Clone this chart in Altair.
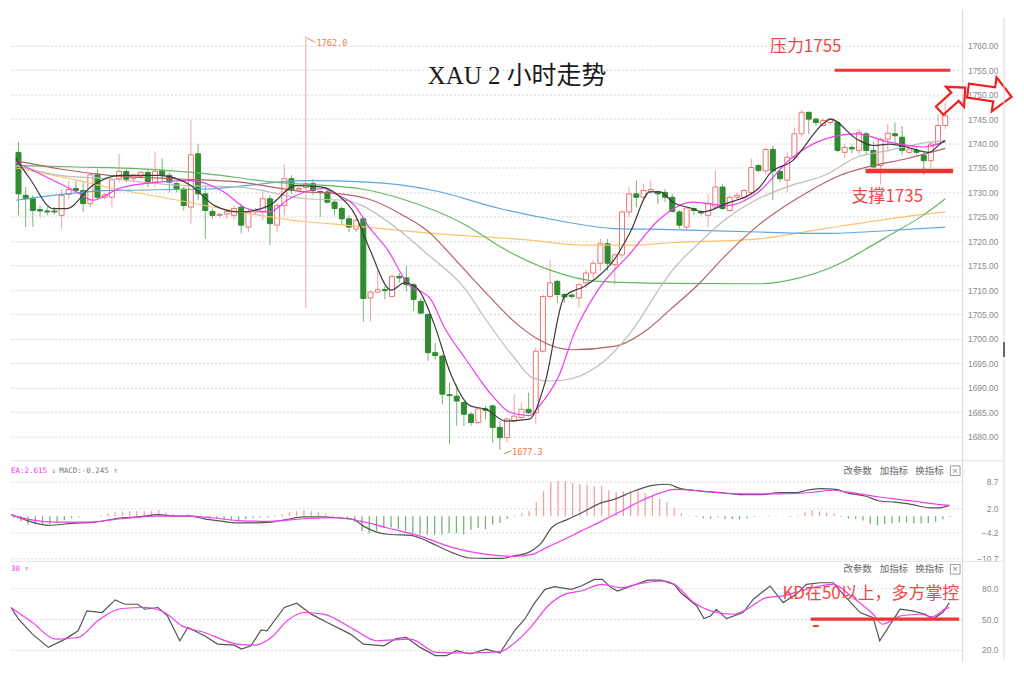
import altair as alt
import pandas as pd

# ---------------- candle data (2-hour bars) ----------------
opens = [1738.2,1729.4,1728.7,1726.5,1726.2,1726.1,1725.3,1729.6,1730.8,1730.4,
1727.7,1733.7,1729.0,1729.0,1732.8,1734.3,1732.8,1733.3,1734.1,1732.1,
1734.5,1733.5,1731.8,1730.7,1727.0,1737.9,1729.7,1726.1,1725.3,1725.6,
1725.3,1727.0,1722.9,1726.0,1726.0,1728.7,1723.3,1727.3,1732.8,1730.5,
1731.0,1731.8,1730.1,1730.1,1728.0,1726.7,1724.6,1722.5,1724.6,1708.4,
1709.6,1710.0,1708.7,1712.8,1712.5,1711.1,1707.7,1705.0,1697.2,1696.5,
1688.6,1688.3,1687.0,1684.6,1682.9,1685.7,1686.3,1681.9,1679.8,1683.2,
1683.9,1685.6,1684.9,1697.5,1708.7,1711.8,1709.1,1709.0,1708.4,1711.5,
1713.5,1715.5,1719.5,1715.2,1717.2,1726.0,1729.7,1729.0,1730.2,1730.1,
1730.0,1729.0,1726.0,1722.9,1726.7,1726.1,1725.3,1727.0,1731.1,1726.3,
1729.0,1729.0,1730.0,1735.5,1734.4,1738.8,1734.3,1732.5,1737.2,1742.0,
1746.4,1745.0,1743.7,1744.3,1744.3,1738.2,1739.2,1738.6,1742.0,1738.6,
1735.5,1740.9,1742.0,1741.3,1738.2,1738.6,1737.6,1736.5,1739.9,1743.7]
highs = [1740.3,1731.1,1729.4,1727.3,1727.0,1727.0,1730.7,1732.4,1732.4,1732.1,
1733.8,1734.8,1729.8,1732.8,1737.9,1734.8,1733.8,1734.4,1734.5,1738.4,
1736.9,1734.1,1732.1,1731.1,1744.9,1739.9,1731.4,1726.7,1725.8,1726.5,
1727.4,1727.7,1726.7,1726.8,1730.2,1729.4,1727.7,1735.7,1733.5,1731.1,
1762.0,1732.8,1730.4,1730.4,1728.4,1727.2,1725.3,1725.0,1725.0,1709.8,
1714.0,1710.8,1713.2,1713.5,1714.9,1711.5,1708.4,1705.3,1699.2,1696.8,
1691.1,1690.7,1687.3,1685.0,1685.9,1686.3,1686.6,1683.2,1683.9,1688.7,
1687.0,1689.0,1698.2,1709.1,1716.2,1712.1,1709.4,1709.3,1711.5,1714.2,
1716.2,1720.5,1720.5,1717.5,1726.3,1731.1,1732.4,1731.8,1732.4,1730.4,
1730.7,1729.7,1726.3,1727.0,1727.0,1726.5,1729.6,1734.5,1731.8,1729.4,
1730.0,1730.7,1736.9,1735.8,1739.2,1739.6,1734.6,1738.2,1743.3,1746.8,
1746.5,1745.3,1745.2,1745.3,1744.7,1739.8,1739.8,1743.0,1742.4,1740.3,
1741.3,1744.0,1744.3,1743.6,1739.2,1739.2,1738.2,1740.3,1746.1,1748.4]
lows = [1725.3,1722.9,1722.9,1725.0,1725.3,1725.5,1722.6,1728.7,1730.0,1726.0,
1727.0,1728.7,1728.6,1727.0,1732.1,1732.1,1732.1,1732.8,1731.1,1731.1,
1732.1,1730.0,1730.0,1726.3,1723.6,1728.4,1720.5,1724.6,1724.8,1724.6,
1724.3,1721.6,1721.9,1725.5,1724.3,1719.2,1721.9,1725.3,1729.7,1730.2,
1706.3,1729.4,1725.0,1727.7,1725.3,1723.3,1721.9,1721.9,1703.5,1703.6,
1709.4,1708.1,1708.7,1711.5,1709.8,1705.7,1705.0,1695.5,1695.8,1686.6,
1678.5,1682.2,1682.2,1682.2,1682.6,1683.6,1678.8,1677.3,1678.8,1682.9,
1683.6,1684.6,1682.6,1697.2,1708.1,1707.4,1707.4,1708.2,1706.4,1710.4,
1712.1,1714.0,1714.0,1711.1,1716.5,1725.0,1726.9,1728.7,1729.7,1727.6,
1728.0,1725.9,1722.6,1722.3,1725.3,1725.3,1722.9,1726.7,1726.4,1726.0,
1728.7,1728.4,1729.4,1734.1,1733.6,1728.4,1732.1,1730.0,1736.9,1741.4,
1741.9,1743.6,1743.5,1743.8,1738.2,1737.1,1738.0,1737.7,1737.7,1734.9,
1731.6,1738.4,1740.0,1737.7,1737.8,1737.7,1733.6,1735.0,1739.6,1743.0]
closes = [1729.7,1728.7,1726.3,1726.2,1726.0,1726.0,1729.4,1730.6,1730.4,1727.7,
1733.6,1729.0,1729.5,1732.6,1734.3,1732.7,1733.5,1734.1,1732.1,1734.3,
1733.5,1732.1,1730.7,1727.3,1737.7,1729.7,1726.3,1725.3,1725.4,1726.1,
1726.7,1723.3,1726.0,1726.3,1728.7,1723.6,1727.3,1732.8,1730.4,1730.8,
1731.8,1730.4,1730.0,1728.0,1726.7,1724.6,1722.9,1724.3,1708.3,1709.6,
1710.1,1709.9,1712.8,1712.5,1711.1,1708.1,1705.3,1697.2,1696.6,1688.7,
1688.4,1687.3,1684.6,1682.9,1685.7,1685.4,1681.9,1679.8,1683.6,1684.2,
1685.6,1684.9,1697.5,1708.7,1711.5,1709.1,1708.6,1708.7,1711.1,1713.5,
1715.5,1719.5,1715.5,1717.2,1726.0,1729.7,1729.0,1730.4,1730.6,1729.7,
1729.0,1726.1,1723.3,1726.8,1726.3,1725.8,1727.7,1731.1,1726.7,1729.0,
1729.4,1730.4,1735.1,1734.5,1738.8,1734.4,1732.8,1737.2,1742.0,1746.4,
1745.0,1744.3,1744.7,1745.0,1738.6,1739.2,1738.9,1742.3,1738.6,1735.2,
1740.8,1742.1,1741.6,1738.6,1738.9,1738.2,1736.5,1739.9,1743.7,1745.7]

# ---------------- moving averages ----------------
ma5_i = [-0.35,1.6,4.8,6.7,10.3,14,19.5,24,27.3,30.8,34.9,38.6,42.3,44.5,47,48,49,51.9,53.7,55.5,57.8,60.1,62.9,65.1,67.8,71.1,73.3,76,78.8,80.7,82.9,85.2,87.9,89.3,91.1,93.8,95.2,98.5,103,104.8,107.5,112.2,113,116.7,119,121.2,123.6,126.7,128.6,129]
ma5_v = [1736.9,1732.8,1726.7,1726.7,1731.4,1733.5,1733.5,1731.4,1727.3,1726.0,1727.3,1731.4,1731.1,1729.4,1725.0,1721.5,1718.0,1710.0,1711.5,1710.4,1703.3,1693.1,1686.3,1685.6,1683.2,1683.6,1691.1,1708.7,1710.8,1712.8,1716.2,1722.0,1730.1,1730.1,1728.0,1726.7,1726.0,1727.7,1730.8,1734.2,1736.2,1744.3,1745.0,1740.9,1739.6,1739.9,1739.3,1738.2,1740.3,1740.6]
ma10_i = [-0.35,3.4,8.1,10.3,14,19.5,24,28.6,31.8,34.9,37.7,42.3,44.5,46.8,48.6,51.4,54.1,57.4,59.2,62.3,66,68.4,71.1,72.5,75.2,77.4,80.7,85.2,89.3,93.8,98.5,103,107.5,112.2,116.7,121.2,125.9,129]
ma10_v = [1736.2,1733.5,1730.1,1728.4,1730.8,1732.1,1732.4,1730.1,1726.7,1726.0,1728.7,1730.8,1729.4,1727.3,1723.3,1718.2,1711.5,1708.1,1702.6,1695.8,1688.3,1685.0,1684.3,1686.3,1692.4,1701.3,1710.1,1717.6,1724.6,1728.0,1727.3,1730.1,1736.9,1740.9,1742.0,1740.3,1739.3,1740.4]
ma20_i = [-0.35,5.8,12.6,21.8,30.8,40,45.5,47.8,53.3,56.8,62.3,64.7,69.2,71.5,73.8,76,80.7,85.2,89.7,91,95,98.5,103,107.5,112.2,116.7,121.2,125.9,129]
ma20_v = [1735.5,1733.5,1732.8,1731.5,1731.1,1728.7,1728.4,1727.3,1721.9,1717.5,1710.0,1704.7,1695.8,1692.1,1691.4,1691.6,1694.5,1701.3,1711.4,1714.0,1720.0,1724.6,1728.7,1731.4,1733.5,1737.2,1738.6,1740.1,1740.6]
ma30_i = [-0.35,5.8,12.6,21.8,30.8,40,44.1,48.6,53.3,57.8,59.2,64.7,69.2,72.5,77,82.9,87.5,90.7,94.8,97.9,103,109.9,114.4,119,123.6,129]
ma30_v = [1736.5,1734.8,1733.5,1732.8,1732.1,1730.1,1729.8,1728.7,1725.5,1721.0,1718.8,1710.0,1703.3,1699.8,1697.8,1698.5,1701.9,1706.0,1711.4,1716.3,1723.3,1730.1,1733.5,1735.5,1736.9,1739.0]
ma60_i = [-0.35,8.1,17.1,26.3,35.5,45.5,47.8,53.3,62.3,67.5,73.8,80.7,90.7,103,107.5,114.4,117.7,121.2,125.9,129]
ma60_v = [1735.5,1735.2,1734.8,1733.8,1732.1,1731.1,1730.7,1728.7,1723.3,1718.5,1714.2,1711.8,1711.4,1711.3,1712.1,1715.5,1718.2,1721.2,1725.3,1728.7]
ma120_i = [-0.35,13,26.3,40,48.6,57.8,67,76,82.9,90.7,103,112.2,121.2,129]
ma120_v = [1728.4,1730.4,1730.7,1732.4,1732.1,1730.4,1726.7,1724.0,1722.6,1722.4,1721.9,1721.6,1722.2,1722.9]
ma250_i = [-0.35,8.1,12.6,21.8,30.8,40,45.5,57.8,71.5,78.4,85.2,90.7,103,112.2,121.2,129]
ma250_v = [1735.0,1732.5,1731.0,1728.5,1726.0,1724.0,1723.3,1721.6,1720.2,1719.2,1719.2,1719.7,1720.5,1722.6,1724.6,1726.0]

# ---------------- MACD ----------------
macd_hist = [-0.5,-1.3,-2.0,-2.0,-2.0,-2.0,-1.5,-1.0,-0.5,-0.3,
-0.1,0.1,0.2,0.8,1.0,1.2,1.3,1.3,1.2,1.3,
1.5,1.0,0.5,0.2,0.5,0.0,-0.3,-0.5,-0.5,-1.0,
-1.0,-1.0,-0.8,-0.5,-0.3,-0.3,0.2,0.5,1.0,1.2,
1.5,1.2,1.0,0.6,0.3,-0.1,-0.5,-1.5,-3.7,-4.3,
-3.7,-2.9,-2.9,-3.3,-3.7,-4.2,-4.6,-4.6,-4.6,-4.6,
-4.2,-4.3,-4.6,-3.5,-2.9,-3.3,-2.1,-1.7,-0.7,0.2,
0.7,1.25,3.5,6.25,8.5,8.75,8.75,8.3,8.1,7.9,
7.5,7.5,6.5,6.1,6.25,6.25,6.25,5.8,5.2,4.3,
3.5,2.1,0.8,0.1,-0.2,-0.5,-0.6,-0.3,-0.7,-0.8,
-0.8,-0.6,-0.2,-0.1,0.2,0.05,-0.1,-0.2,0.2,1.0,
1.5,1.2,0.9,0.7,-0.2,-0.6,-0.8,-1.1,-2.0,-2.3,
-2.0,-1.8,-1.6,-1.6,-1.8,-1.8,-1.7,-1.4,-0.8,-0.2]
dif_i = [-0.35,2.1,4.8,8.1,11.2,14.9,17.1,19.9,22.2,24.5,26.3,28.6,30.8,33.2,35.5,37.7,40,42.3,44.5,46.8,48.2,50,51.9,54.7,56.4,58.2,60.5,62.9,65.1,67.4,68.8,70.8,72.7,74.1,76.3,78.2,81,82.7,85.5,88.2,90,91.9,94.7,97.4,100.1,102.9,105.6,107.8,109.2,111.1,113.3,114.7,117.4,119.3,121.5,123.8,126.2,127.5,128.9]
dif_v = [0.4,-1.25,-2.3,-1.8,-1.5,-0.4,-0.2,0.4,0.0,0.0,-0.7,-1.25,-1.7,-1.7,-1.5,-0.8,-0.2,-0.2,-0.4,-0.8,-2.5,-4.0,-4.6,-4.8,-5.8,-7.3,-9.2,-10.5,-10.6,-10.6,-10.0,-9.2,-6.7,-2.9,-0.8,0.8,3.4,4.2,6.3,7.8,8.0,6.9,6.3,5.9,5.4,5.4,5.9,5.9,6.5,6.9,6.7,5.9,5.0,3.8,3.5,2.9,2.1,2.1,2.7]
dea_i = [-0.35,2.1,5.8,10.3,14.9,19.5,24,27.3,30.8,35.5,40,44.5,47.8,51.4,56,60.5,65.1,69,71.4,73.6,75.9,78.2,81,83.7,86.4,89.2,91,93.7,96.4,101,105.6,110.1,112.9,114.7,119.3,123.8,127.5,128.9]
dea_v = [0.4,-0.8,-1.5,-1.5,-0.65,0.0,0.0,-0.4,-1.1,-1.3,-0.65,-0.4,-1.25,-2.9,-5.0,-7.9,-9.6,-10.1,-9.6,-7.7,-5.8,-3.7,-1.25,1.25,3.8,5.9,6.7,6.5,6.0,5.6,5.6,6.0,6.5,6.1,4.8,3.8,2.9,2.7]

# ---------------- KD ----------------
k_i = [-0.35,0.7,2.6,4.8,7.1,8.9,10.1,12.2,14,15.3,17.1,18.1,19.9,21.2,22.9,24,26.3,28.1,30.4,31.4,32.7,34.1,34.9,37.3,39,41,43.2,46.4,48.2,51,52.7,54.1,56,58.1,59.6,61,62.9,65.1,67,69,70.4,71.8,73.2,74.5,76.8,78.2,80,81.1,82.3,83.2,85.1,87.3,89.2,91,91.9,94.1,95.1,96,96.8,98.2,100.5,101.9,104.2,106,107.8,109.2,111.1,112.9,114.7,116.6,118.4,119.3,122.1,123.8,125.6,126.6,128,128.9]
k_v = [61.4,50,35.3,22.3,30.4,38.5,58.1,56.5,68.9,64.6,64.6,59.7,61.4,53.2,28.8,41.8,33.7,25.5,24.5,20.6,23.8,39.5,38.5,61.4,65.6,54.9,46.7,35.3,25.5,23.8,31,32,22.3,14.2,14.2,19.1,15.8,20.6,16.8,38.5,49.9,66.2,79.2,81.8,79.2,82.5,89,89,80.9,77.6,82.5,88.3,88.3,84.1,75.9,62.9,50.5,53.1,59.7,50.5,56.4,69.5,82.5,66.2,74.3,84.1,85.7,85.7,71.1,56.4,51.5,28.8,59.7,58.1,54.8,49.9,56.4,66.2]
d_i = [-0.35,2.6,5.8,8.9,11.6,14.9,18.1,20.8,23.2,26.3,30.8,33.2,35.5,37.7,40,42.7,46.8,50,54.7,58.2,62.9,67,68.8,71.4,73.6,75.9,78.2,81,83.7,86.4,89.6,91,93.7,96,99.2,101,103.7,106,108.4,111.1,112.9,115.6,118.4,119.7,122.1,124.8,126.6,128.4,128.9]
d_v = [61.4,46.7,30.4,32,48.4,60.4,61.4,56.5,43.4,36.9,25.5,24.5,32,48.4,56.5,54.9,40.2,28.8,30.4,17.4,16.8,18.1,25.5,43.4,62.9,74.3,77.6,84.1,80.9,85.1,87.4,84.1,66.2,58.1,54.8,59.7,71.1,72.8,77.6,82.5,84.1,71.1,54.8,45,53.1,54.8,52.4,60.3,61.3]

price_ticks = [1680 + 5 * k for k in range(17)]
macd_ticks = [8.7, 2.0, -4.2, -10.7]
kd_ticks = [80, 50, 20]

# ---------------- frames ----------------
n = len(opens)
cdf = pd.DataFrame({"i": list(range(n)), "o": opens, "h": highs, "l": lows, "c": closes})
cdf["dir"] = ["up" if c > o else "down" for o, c in zip(opens, closes)]
cdf["blo"] = [min(o, c) for o, c in zip(opens, closes)]
cdf["bhi"] = [max(max(o, c), min(o, c) + 0.2) for o, c in zip(opens, closes)]

W = 954
XS = alt.Scale(domain=[-0.35, 130.66], nice=False, zero=False)
X = alt.X("i:Q", scale=XS, axis=None)


def make_axis(vals, fmt):
    return alt.Axis(orient="right", values=vals, format=fmt, grid=True, gridDash=[2, 2],
                    gridColor="#d6d6d6", gridWidth=1, domain=True, domainColor="#d4d4d4",
                    ticks=False, labelAlign="right", labelPadding=36, labelColor="#8a8a8a",
                    labelFontSize=8.5, labelFont="Liberation Sans", labelOverlap=False, title=None)


main_scale = alt.Scale(domain=[1675.1, 1767.55], nice=False, zero=False)
main_axis = make_axis(price_ticks, ".2f")


def ym(f):
    return alt.Y(f, type="quantitative", scale=main_scale, axis=main_axis)


dir_dom = ["up", "down"]
wicks = alt.Chart(cdf).mark_rule(strokeWidth=1).encode(
    x=X, y=ym("l"), y2="h",
    color=alt.Color("dir:N", scale=alt.Scale(domain=dir_dom, range=["#f3a0a0", "#74b474"]), legend=None))
bodies = alt.Chart(cdf).mark_bar(size=5, strokeWidth=1).encode(
    x=X, y=ym("blo"), y2="bhi",
    fill=alt.Fill("dir:N", scale=alt.Scale(domain=dir_dom, range=["#ffffff", "#2f8c2f"]), legend=None),
    stroke=alt.Stroke("dir:N", scale=alt.Scale(domain=dir_dom, range=["#ef7070", "#2f8c2f"]), legend=None))

ma_specs = [
    (ma250_i, ma250_v, "#fbc469"),
    (ma120_i, ma120_v, "#5aa7e6"),
    (ma60_i, ma60_v, "#63b863"),
    (ma30_i, ma30_v, "#b06464"),
    (ma20_i, ma20_v, "#bdbdbd"),
    (ma10_i, ma10_v, "#f03cf0"),
    (ma5_i, ma5_v, "#3c3c3c"),
]
ma_layers = []
for mi, mv, col in ma_specs:
    ma_layers.append(alt.Chart(pd.DataFrame({"i": mi, "v": mv})).mark_line(
        color=col, strokeWidth=1.2, interpolate="monotone").encode(x=X, y=ym("v")))

RED = "#f03434"
sr = pd.DataFrame({"i": [113.6, 117.9], "i2": [129.7, 130.1], "v": [1755.0, 1734.4], "w": ["a", "b"]})
res_line = alt.Chart(sr[sr.w == "a"]).mark_rule(color=RED, strokeWidth=3).encode(x=X, x2="i2", y=ym("v"))
sup_line = alt.Chart(sr[sr.w == "b"]).mark_rule(color=RED, strokeWidth=4.5).encode(x=X, x2="i2", y=ym("v"))

red_txt = pd.DataFrame({"i": [104.6, 115.96], "v": [1759.8, 1729.0], "t": ["压力1755", "支撑1735"]})
red_text = alt.Chart(red_txt).mark_text(align="left", baseline="middle", fontSize=17,
                                        font="Noto Sans CJK SC", color="#f04848").encode(
    x=X, y=ym("v"), text="t:N")

title_df = pd.DataFrame({"i": [69.4], "v": [1753.9], "t": ["XAU 2 小时走势"]})
title = alt.Chart(title_df).mark_text(align="center", baseline="middle", fontSize=25,
                                      font="Liberation Serif, Noto Sans CJK SC", color="#1a1a1a").encode(
    x=X, y=ym("v"), text="t:N")

ext_txt = pd.DataFrame({"i": [41.5, 68.7], "v": [1760.6, 1676.9], "t": ["1762.0", "1677.3"]})
ext_text = alt.Chart(ext_txt).mark_text(align="left", baseline="middle", fontSize=8.5,
                                        font="DejaVu Sans Mono", color="#f07a3a").encode(
    x=X, y=ym("v"), text="t:N")
lead = pd.DataFrame({"i": [40.2, 67.6], "i2": [41.3, 68.6], "v": [1761.6, 1676.5], "v2": [1760.7, 1677.1]})
leaders = alt.Chart(lead).mark_rule(color="#f07a3a", strokeWidth=1).encode(
    x=X, x2="i2", y=ym("v"), y2="v2")

arrow_path = "M -1 -0.32 L 0.2 -0.32 L 0.2 -0.78 L 1 0 L 0.2 0.78 L 0.2 0.32 L -1 0.32 Z"
arr1 = alt.Chart(pd.DataFrame({"i": [130.0], "v": [1749.1]})).mark_point(
    shape=arrow_path, filled=False, stroke="#ee2020", strokeWidth=2.2, size=1200, angle=318, opacity=1).encode(
    x=X, y=ym("v"))
arr2 = alt.Chart(pd.DataFrame({"i": [135.2], "v": [1750.2]})).mark_point(
    shape=arrow_path, filled=False, stroke="#ee2020", strokeWidth=2.2, size=1950, angle=8, opacity=1).encode(
    x=X, y=ym("v"))

frame_main = alt.Chart(pd.DataFrame({"k": [0]})).mark_rule(color="#d8d8d8").encode(
    x=alt.value(996), y=alt.value(9), y2=alt.value(453))
thumb = alt.Chart(pd.DataFrame({"k": [0]})).mark_rule(color="#666666", strokeWidth=2).encode(
    x=alt.value(996), y=alt.value(334), y2=alt.value(349))

main = alt.layer(wicks, bodies, *ma_layers, res_line, sup_line, red_text, title, ext_text, leaders,
                 arr1, arr2, frame_main, thumb).properties(width=W, height=453)

# ---------------- MACD panel ----------------
macd_scale = alt.Scale(domain=[-11.33, 13.93], nice=False, zero=False)
macd_axis = make_axis(macd_ticks, ".1f")


def yq(f):
    return alt.Y(f, type="quantitative", scale=macd_scale, axis=macd_axis)


hdf = pd.DataFrame({"i": list(range(n)), "v": macd_hist, "z": [0.0] * n})
hdf["s"] = ["pos" if v > 0 else "neg" for v in macd_hist]
hist = alt.Chart(hdf).mark_rule(strokeWidth=1.3).encode(
    x=X, y=yq("z"), y2="v",
    color=alt.Color("s:N", scale=alt.Scale(domain=["pos", "neg"], range=["#f08a8a", "#6fb46f"]), legend=None))
dif_line = alt.Chart(pd.DataFrame({"i": dif_i, "v": dif_v})).mark_line(
    color="#555555", strokeWidth=1.2, interpolate="monotone").encode(x=X, y=yq("v"))
dea_line = alt.Chart(pd.DataFrame({"i": dea_i, "v": dea_v})).mark_line(
    color="#f03cf0", strokeWidth=1.2, interpolate="monotone").encode(x=X, y=yq("v"))

hdr1 = alt.Chart(pd.DataFrame({"i": [-0.35], "v": [11.4], "t": ["EA:2.615 ↓"]})).mark_text(
    align="left", baseline="middle", fontSize=7.5, font="DejaVu Sans Mono", color="#ee33ee").encode(
    x=X, y=yq("v"), text="t:N")
hdr2 = alt.Chart(pd.DataFrame({"i": [6.3], "v": [11.4], "t": ["MACD:-0.245 ↑"]})).mark_text(
    align="left", baseline="middle", fontSize=7.5, font="DejaVu Sans Mono", color="#777777").encode(
    x=X, y=yq("v"), text="t:N")

menu_i = [114.3, 119.3, 124.2]
menu_t = ["改参数", "加指标", "换指标"]


def menu(yf, yval):
    mdf = pd.DataFrame({"i": menu_i, "v": [yval] * 3, "t": menu_t})
    txt = alt.Chart(mdf).mark_text(align="left", baseline="middle", fontSize=9.5,
                                   font="Noto Sans CJK SC", color="#666666").encode(
        x=X, y=yf("v"), text="t:N")
    bdf = pd.DataFrame({"i": [129.7], "v": [yval], "t": ["×"]})
    box = alt.Chart(bdf).mark_point(shape="square", filled=False, size=95, stroke="#9a9a9a",
                                    strokeWidth=1, opacity=1).encode(x=X, y=yf("v"))
    cross = alt.Chart(bdf).mark_text(align="center", baseline="middle", fontSize=10,
                                     color="#888888").encode(x=X, y=yf("v"), text="t:N")
    return [txt, box, cross]


sep_macd = alt.Chart(pd.DataFrame({"k": [0]})).mark_rule(color="#e2e2e2").encode(
    x=alt.value(0), x2=alt.value(996), y=alt.value(0))
frame_macd = alt.Chart(pd.DataFrame({"k": [0]})).mark_rule(color="#d8d8d8").encode(
    x=alt.value(996), y=alt.value(0), y2=alt.value(101))

macd = alt.layer(hist, dif_line, dea_line, hdr1, hdr2, *menu(yq, 11.4), sep_macd, frame_macd).properties(
    width=W, height=101)

# ---------------- KD panel ----------------
kd_scale = alt.Scale(domain=[8.9, 106.7], nice=False, zero=False)
kd_axis = make_axis(kd_ticks, ".1f")


def yk(f):
    return alt.Y(f, type="quantitative", scale=kd_scale, axis=kd_axis)


k_line = alt.Chart(pd.DataFrame({"i": k_i, "v": k_v})).mark_line(
    color="#555555", strokeWidth=1.2).encode(x=X, y=yk("v"))
d_line = alt.Chart(pd.DataFrame({"i": d_i, "v": d_v})).mark_line(
    color="#f03cf0", strokeWidth=1.2, interpolate="monotone").encode(x=X, y=yk("v"))
kd_hdr = alt.Chart(pd.DataFrame({"i": [-0.35], "v": [98.9], "t": ["30 ↑"]})).mark_text(
    align="left", baseline="middle", fontSize=7.5, font="DejaVu Sans Mono", color="#ee33ee").encode(
    x=X, y=yk("v"), text="t:N")
kd_red = alt.Chart(pd.DataFrame({"i": [109.8], "i2": [130.25], "v": [50.0]})).mark_rule(
    color=RED, strokeWidth=3.5).encode(x=X, x2="i2", y=yk("v"))
kd_dash = alt.Chart(pd.DataFrame({"i": [110.1], "i2": [110.9], "v": [43.2]})).mark_rule(
    color=RED, strokeWidth=2).encode(x=X, x2="i2", y=yk("v"))
kd_txt = alt.Chart(pd.DataFrame({"i": [105.9], "v": [74.4], "t": ["KD在50以上，多方掌控"]})).mark_text(
    align="left", baseline="middle", fontSize=17, font="Noto Sans CJK SC", color="#f04848").encode(
    x=X, y=yk("v"), text="t:N")
sep_kd = alt.Chart(pd.DataFrame({"k": [0]})).mark_rule(color="#e2e2e2").encode(
    x=alt.value(0), x2=alt.value(996), y=alt.value(0))
frame_kd = alt.Chart(pd.DataFrame({"k": [0]})).mark_rule(color="#d8d8d8").encode(
    x=alt.value(996), y=alt.value(0), y2=alt.value(98))

kd = alt.layer(k_line, d_line, kd_hdr, *menu(yk, 98.9), kd_red, kd_dash, kd_txt, sep_kd, frame_kd).properties(
    width=W, height=100)

chart = alt.vconcat(main, macd, kd, spacing=0, bounds="flush").properties(
    padding=0, background="white").configure(
    font="Liberation Sans", view=alt.ViewConfig(stroke=None))

chart.save("out.html", embed_options={"renderer": "svg", "actions": False})
